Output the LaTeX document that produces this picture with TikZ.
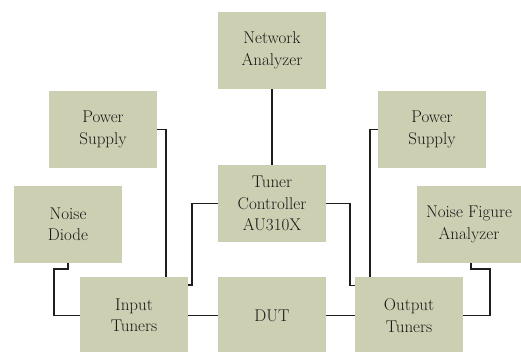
\documentclass[tikz,border=0pt]{standalone}
\usetikzlibrary{calc}
\definecolor{boxfill}{RGB}{204,207,177}
\definecolor{linecol}{RGB}{30,30,30}
\begin{document}
\begin{tikzpicture}[x=1pt,y=-1pt,
  blk/.style={fill=boxfill,draw=none,inner sep=0pt,minimum width=108pt,minimum height=77pt,
    align=center,font=\fontsize{17}{21.5}\selectfont,text=black!90},
  wire/.style={draw=linecol,line width=1.6pt}]
\useasboundingbox (0,0) rectangle (521,352);
\fill[white] (0,0) rectangle (521,352);
\node[blk] (na)  at (272,50.5)  {Network\\Analyzer};
\node[blk] (psl) at (103,129.5) {Power\\Supply};
\node[blk] (nd)  at (68,224.5)  {Noise\\Diode};
\node[blk] (it)  at (134,315.5) {Input\\Tuners};
\node[blk] (tc)  at (272,203.5) {Tuner\\Controller\\AU310X};
\node[blk] (dut) at (272,315.5) {DUT};
\node[blk] (psr) at (432,129.5) {Power\\Supply};
\node[blk,minimum width=104pt] (nfa) at (469,224.5) {Noise Figure\\Analyzer};
\node[blk] (ot)  at (409,315.5) {Output\\Tuners};
\draw[wire] (na.south) -- (tc.north);
\draw[wire] (psl.east) -| ([xshift=32pt]it.north);
\draw[wire] ([xshift=0pt]nd.south) -- ++(0,6) -| ([xshift=-26pt]it.west) -- (it.west);
\draw[wire] ([yshift=30.5pt]it.east) -- ++(4,0) |- (tc.west);
\draw[wire] (it.east) -- (dut.west);
\draw[wire] (dut.east) -- (ot.west);
\draw[wire] (tc.east) -| ([xshift=-5pt,yshift=30pt]ot.west) -- ([yshift=30pt]ot.west);
\draw[wire] (psr.west) -| ([xshift=-39pt]ot.north);
\draw[wire] ([xshift=2pt]nfa.south) -- ++(0,6) -| ([xshift=27pt]ot.east) -- (ot.east);
\end{tikzpicture}
\end{document}
